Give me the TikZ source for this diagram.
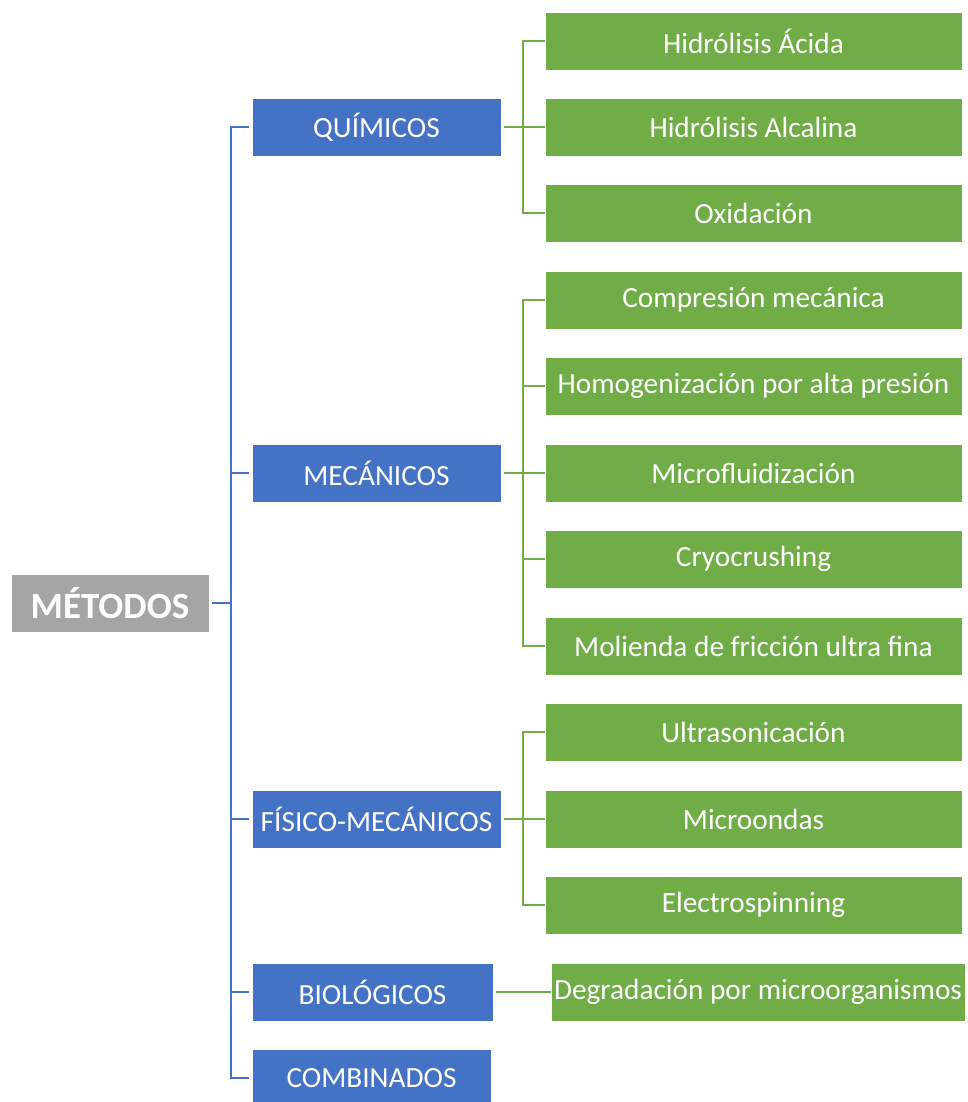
\documentclass[tikz,border=0pt]{standalone}
\usepackage{fontspec}
\setmainfont{Carlito}
\definecolor{cblue}{HTML}{4472C4}
\definecolor{cgreen}{HTML}{70AD47}
\definecolor{cgray}{HTML}{A5A5A5}
\begin{document}
\begin{tikzpicture}[x=1pt,y=-1pt,
  base/.style={draw=white,line width=0.8pt,text=white,inner sep=0pt,minimum height=58pt},
  rootbox/.style={base,fill=cgray,minimum width=198pt,font=\fontsize{37}{42}\selectfont\bfseries},
  catbox/.style={base,fill=cblue,minimum width=249pt,font=\fontsize{29.3}{34}\selectfont},
  leafbox/.style={base,fill=cgreen,minimum width=417pt,font=\fontsize{29.3}{34}\selectfont},
  bline/.style={draw=cblue,line width=2.6pt},
  gline/.style={draw=cgreen,line width=2.6pt}]
\clip (0,0) rectangle (967,1102);
\fill[white] (0,0) rectangle (967,1102);
% root
\node[rootbox] (root) at (110,603) {MÉTODOS};
% categories
\node[catbox] (q) at (376.5,127) {QUÍMICOS};
\node[catbox] (m) at (376.5,473) {MECÁNICOS};
\node[catbox] (f) at (376.5,819) {FÍSICO-MECÁNICOS};
\node[catbox,minimum width=241pt] (b) at (372.5,992) {BIOLÓGICOS};
\node[catbox,minimum width=239pt] (c) at (371.5,1078) {COMBINADOS};
% leaves
\node[leafbox] (q1) at (753.5,41) {Hidrólisis Ácida};
\node[leafbox] (q2) at (753.5,127) {Hidrólisis Alcalina};
\node[leafbox] (q3) at (753.5,213) {Oxidación};
\node[leafbox] (m1) at (753.5,300) {Compresión mecánica};
\node[leafbox] (m2) at (753.5,386) {Homogenización por alta presión};
\node[leafbox] (m3) at (753.5,473) {Microfluidización};
\node[leafbox] (m4) at (753.5,559) {Cryocrushing};
\node[leafbox] (m5) at (753.5,646) {Molienda de fricción ultra fina};
\node[leafbox] (f1) at (753.5,732) {Ultrasonicación};
\node[leafbox] (f2) at (753.5,819) {Microondas};
\node[leafbox] (f3) at (753.5,905) {Electrospinning};
\node[leafbox,minimum width=414pt] (b1) at (758,992) {Degradación por microorganismos};
% trunk coordinates
\coordinate (rt) at (231,603);
% blue connectors
\draw[bline] ([xshift=3pt]root.east) -- (rt);
\foreach \n in {q,m,f,b,c}{
  \draw[bline] (rt) -- (rt |- \n.west) -- ([xshift=-3pt]\n.west);
}
% green connectors
\foreach \p/\lst in {q/{q1,q2,q3},m/{m1,m2,m3,m4,m5},f/{f1,f2,f3}}{
  \coordinate (j) at (523,0 |- \p.east);
  \draw[gline] ([xshift=3pt]\p.east) -- (j);
  \foreach \l in \lst {
    \draw[gline] (j) -- (j |- \l.west) -- (\l.west);
  }
}
\draw[gline] ([xshift=3pt]b.east) -- (b1.west);
\end{tikzpicture}
\end{document}
